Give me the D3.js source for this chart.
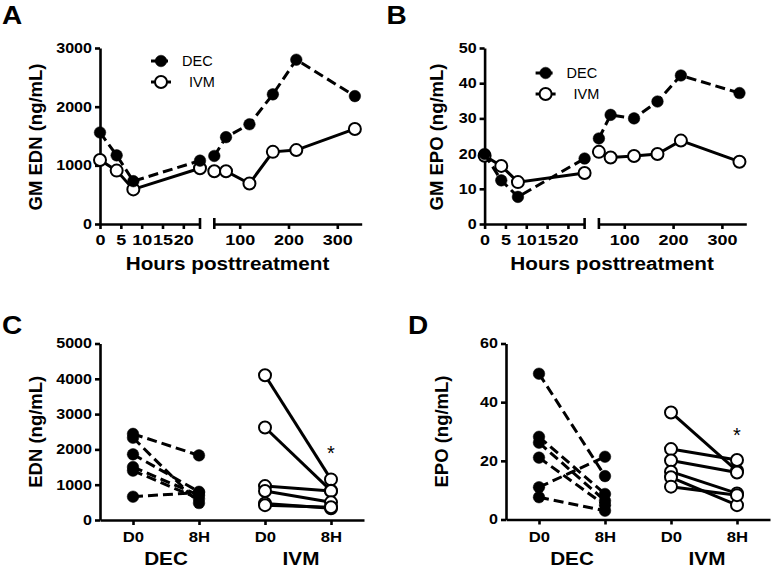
<!DOCTYPE html>
<html><head><meta charset="utf-8">
<script src="https://cdn.jsdelivr.net/npm/d3@7"></script>
<style>
body{margin:0;background:#fff;}
svg{display:block;font-family:"Liberation Sans",Arial,sans-serif;}
</style></head>
<body><svg id="chart" width="771" height="570"></svg>
<script>
// ---------- data ----------
const hoursEarly = [0, 4, 8, 24];
const hoursLate = [48, 72, 120, 168, 216, 336];
const ednDecEarly = [1560, 1170, 730, 1080];
const ednDecLate = [1160, 1480, 1700, 2210, 2800, 2180];
const ednIvmEarly = [1090, 910, 590, 950];
const ednIvmLate = [900, 900, 690, 1230, 1260, 1620];
const epoDecEarly = [19.9, 12.4, 7.7, 18.6];
const epoDecLate = [24.3, 31.0, 30.0, 34.8, 42.2, 37.2];
const epoIvmEarly = [19.4, 16.5, 11.9, 14.5];
const epoIvmLate = [20.5, 18.9, 19.3, 19.9, 23.7, 17.7];

const earlyTicks = [0, 5, 10, 15, 20];
const lateTicks = [100, 200, 300];
const ednTicksA = [0, 1000, 2000, 3000];
const epoTicksB = [0, 10, 20, 30, 40, 50];

const groups = ["DEC", "IVM"];
const timepoints = ["D0", "8H"];
const ednDecD0 = [2440, 2330, 1860, 1500, 1400, 660];
const ednDec8H = [1830, 480, 800, 700, 600, 780];
const ednIvmD0 = [4100, 2620, 960, 820, 470, 420];
const ednIvm8H = [1150, 830, 820, 500, 330, 360];
const epoDecD0 = [49.7, 28.2, 26.2, 21.1, 11.0, 7.6];
const epoDec8H = [14.8, 8.7, 6.4, 4.9, 21.4, 3.0];
const epoIvmD0 = [36.5, 24.0, 20.1, 16.3, 14.4, 11.2];
const epoIvm8H = [16.6, 20.3, 16.0, 8.9, 4.9, 8.3];
const ednTicksC = [0, 1000, 2000, 3000, 4000, 5000];
const epoTicksD = [0, 20, 40, 60];

// ---------- helpers ----------
const svg = d3.select("#chart");
svg.append("rect").attr("width", 771).attr("height", 570).attr("fill", "#fff");
const SX = 1.15;
const AX_W = 2.6;
const DASH = "10,5";
const R_FILL = 5.8, R_OPEN = 6;

function stretchTicks(g, sx, size) {
  g.selectAll(".tick text").each(function () {
    const t = d3.select(this);
    const x = +t.attr("x") || 0;
    t.attr("x", x / sx).attr("transform", `scale(${sx},1)`)
     .attr("font-size", size).attr("font-weight", "bold").attr("fill", "#000");
  });
}
function styleAxis(g) {
  g.select(".domain").attr("stroke", "#000").attr("stroke-width", AX_W);
  g.selectAll(".tick line").attr("stroke", "#000").attr("stroke-width", AX_W);
}
function label(x, y, txt, opts = {}) {
  const g = svg.append("g").attr("transform", `translate(${x},${y})` + (opts.rotate ? ` rotate(${opts.rotate})` : ""));
  g.append("text").attr("transform", `scale(${opts.sx || 1},1)`)
    .attr("text-anchor", opts.anchor || "middle")
    .attr("font-size", opts.size || 14)
    .attr("font-weight", opts.bold === false ? "normal" : "bold")
    .attr("fill", "#000").text(txt);
}
function dot(sel, filled) {
  return sel.attr("r", filled ? R_FILL : R_OPEN)
    .attr("fill", filled ? "#000" : "#fff")
    .attr("stroke", "#000").attr("stroke-width", filled ? 0.5 : 2);
}
function drawSeries(xs, ys, xScale, yScale, filled) {
  const line = d3.line().x((d, i) => xScale(xs[i])).y(d => yScale(d));
  svg.append("path").datum(ys).attr("d", line).attr("fill", "none")
    .attr("stroke", "#000").attr("stroke-width", 3)
    .attr("stroke-dasharray", filled ? DASH : null);
  dot(svg.append("g").selectAll("circle").data(ys).join("circle")
    .attr("cx", (d, i) => xScale(xs[i])).attr("cy", d => yScale(d)), filled);
}
function legendItem(x, y, txt, filled, tx) {
  svg.append("line").attr("x1", x - 10).attr("x2", x + (filled ? 12 : 10))
    .attr("y1", y).attr("y2", y).attr("stroke", "#000").attr("stroke-width", 3)
    .attr("stroke-dasharray", filled ? "10,4,3,10" : null);
  dot(svg.append("circle").attr("cx", x).attr("cy", y), filled);
  svg.append("text").attr("x", tx).attr("y", y + 5).attr("font-size", 14.5).attr("fill", "#000").text(txt);
}

// ---------- time-course panels ----------
function timePanel(ox, yMax, yTicks, title, decE, decL, ivmE, ivmL, legY, letter, ylabX) {
  const y0 = 224, yTop = 48;
  const y = d3.scaleLinear().domain([0, yMax]).range([y0, yTop]);
  const x1 = d3.scaleLinear().domain([0, 24]).range([ox, ox + 100]);
  const x2 = d3.scaleLinear().domain([48, 350]).range([ox + 114.3, ox + 261.7]);

  const gy = svg.append("g").attr("transform", `translate(${ox},0)`)
    .call(d3.axisLeft(y).tickValues(yTicks).tickSize(5).tickSizeOuter(0).tickPadding(3).tickFormat(d3.format("d")));
  styleAxis(gy); stretchTicks(gy, SX, 14);

  const gx1 = svg.append("g").attr("transform", `translate(0,${y0})`)
    .call(d3.axisBottom(x1).tickValues(earlyTicks).tickSize(5).tickSizeOuter(0).tickPadding(5));
  styleAxis(gx1); stretchTicks(gx1, 1.2, 15);
  const gx2 = svg.append("g").attr("transform", `translate(0,${y0})`)
    .call(d3.axisBottom(x2).tickValues(lateTicks).tickSize(5).tickSizeOuter(0).tickPadding(5));
  styleAxis(gx2); stretchTicks(gx2, 1.2, 15);
  // break caps
  [x1(24), x2(48)].forEach(cx => {
    svg.append("line").attr("x1", cx).attr("x2", cx).attr("y1", y0 - 6).attr("y2", y0 + 5)
      .attr("stroke", "#000").attr("stroke-width", AX_W);
  });

  drawSeries(hoursEarly, ivmE, x1, y, false);
  drawSeries(hoursLate, ivmL, x2, y, false);
  drawSeries(hoursEarly, decE, x1, y, true);
  drawSeries(hoursLate, decL, x2, y, true);

  legendItem(ox + 61, legY, "DEC", true, ox + 82);
  legendItem(ox + 61, legY + 21, "IVM", false, ox + 89);

  label(ylabX, 137, title, { rotate: -90, size: 18.5 });
  label(ox + 127.5, 269.5, "Hours posttreatment", { size: 18.5, sx: 1.12 });
  label(ox - 98, 23.5, letter, { size: 25, sx: 1.12, anchor: "start" });
}

timePanel(100, 3000, ednTicksA, "GM EDN (ng/mL)", ednDecEarly, ednDecLate, ednIvmEarly, ednIvmLate, 61, "A", 42);
timePanel(484.6, 50, epoTicksB, "GM EPO (ng/mL)", epoDecEarly, epoDecLate, epoIvmEarly, epoIvmLate, 73, "B", 443);

// ---------- paired panels ----------
function pairedPanel(ox, yMax, yTicks, title, decD0, dec8H, ivmD0, ivm8H, y0, starY, letter, ylabX) {
  const yTop = 343.5;
  const y = d3.scaleLinear().domain([0, yMax]).range([y0, yTop]);
  const cats = [];
  groups.forEach(g => timepoints.forEach(t => cats.push(g + "|" + t)));
  const x = d3.scalePoint().domain(cats).range([ox, ox + 264]).padding(0.5);

  const gy = svg.append("g").attr("transform", `translate(${ox},0)`)
    .call(d3.axisLeft(y).tickValues(yTicks).tickSize(5).tickSizeOuter(0).tickPadding(3).tickFormat(d3.format("d")));
  styleAxis(gy); stretchTicks(gy, SX, 14);
  const gx = svg.append("g").attr("transform", `translate(0,${y0})`)
    .call(d3.axisBottom(x).tickSize(5).tickSizeOuter(0).tickPadding(7).tickFormat(d => d.split("|")[1]));
  styleAxis(gx); stretchTicks(gx, SX, 14.5);

  groups.forEach(g => {
    const cx = (x(g + "|D0") + x(g + "|8H")) / 2;
    label(cx + (g === "IVM" ? 3 : 0), y0 + 45, g, { size: 18.5, sx: 1.12 });
  });

  const pairs = [[decD0, dec8H, "DEC", true], [ivmD0, ivm8H, "IVM", false]];
  pairs.forEach(([a, b, g, filled]) => {
    const xa = x(g + "|D0"), xb = x(g + "|8H");
    svg.append("g").selectAll("line").data(a).join("line")
      .attr("x1", xa).attr("x2", xb).attr("y1", d => y(d)).attr("y2", (d, i) => y(b[i]))
      .attr("stroke", "#000").attr("stroke-width", 3).attr("stroke-dasharray", filled ? DASH : null);
    [[a, xa], [b, xb]].forEach(([vals, px]) => {
      dot(svg.append("g").selectAll("circle").data(vals).join("circle")
        .attr("cx", px).attr("cy", d => y(d)), filled);
    });
  });
  svg.append("text").attr("x", x("IVM|8H")).attr("y", starY).attr("text-anchor", "middle")
    .attr("font-size", 20).attr("fill", "#000").text("*");

  label(ylabX, (y0 + yTop) / 2, title, { rotate: -90, size: 18.5 });
  label(ox - 98, 334, letter, { size: 25, sx: 1.12, anchor: "start" });
}

pairedPanel(100, 5000, ednTicksC, "EDN (ng/mL)", ednDecD0, ednDec8H, ednIvmD0, ednIvm8H, 520, 460, "C", 42);
pairedPanel(506, 60, epoTicksD, "EPO (ng/mL)", epoDecD0, epoDec8H, epoIvmD0, epoIvm8H, 519.5, 442, "D", 448);
</script></body></html>
